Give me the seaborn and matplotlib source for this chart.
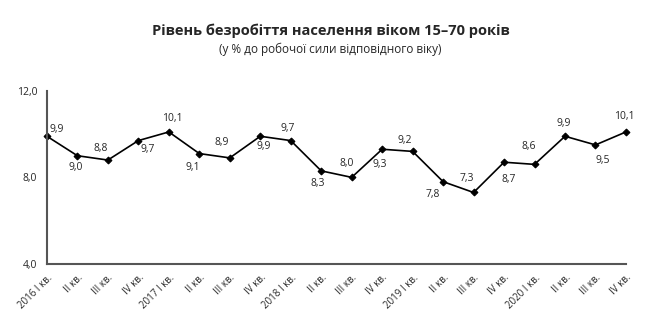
import matplotlib
matplotlib.use("Agg")
import matplotlib.pyplot as plt
import seaborn as sns
import pandas as pd

quarters = ["2016 І кв.", "ІІ кв.", "ІІІ кв.", "ІV кв.",
            "2017 І кв.", "ІІ кв.", "ІІІ кв.", "ІV кв.",
            "2018 І кв.", "ІІ кв.", "ІІІ кв.", "ІV кв.",
            "2019 І кв.", "ІІ кв.", "ІІІ кв.", "ІV кв.",
            "2020 І кв.", "ІІ кв.", "ІІІ кв.", "ІV кв."]
rate = [9.9, 9.0, 8.8, 9.7, 10.1, 9.1, 8.9, 9.9, 9.7, 8.3,
        8.0, 9.3, 9.2, 7.8, 7.3, 8.7, 8.6, 9.9, 9.5, 10.1]
# label offsets in pixels (dx, dy), dy positive = up
label_off = [(10, 7), (-2, -12), (-7, 12), (9, -9), (3, 13), (-7, -14),
             (-8, 15), (3, -10), (-3, 12), (-3, -13), (-5, 14), (-2, -15),
             (-8, 11), (-10, -13), (-7, 14), (5, -17), (-6, 18), (-1, 13),
             (7, -16), (-2, 15)]

sns.set_theme(style="white")
plt.rcParams['font.family'] = ['Open Sans', 'DejaVu Sans']

df = pd.DataFrame({"x": range(len(quarters)), "y": rate})
fig = plt.figure(figsize=(6.61, 3.34), dpi=100)
ax = fig.add_axes([0.071, 0.21, 0.876, 0.518])
sns.lineplot(data=df, x="x", y="y", ax=ax, color="black", linewidth=1.2,
             marker="D", markersize=3.5, markeredgecolor="black")
ax.set_xlim(0, len(quarters) - 1)
ax.set_ylim(4, 12)
ax.set_yticks([4, 8, 12])
ax.set_yticklabels(["4,0", "8,0", "12,0"], fontsize=7.5)
ax.set_xticks(range(len(quarters)))
ax.set_xticklabels(quarters, rotation=45, ha="right", rotation_mode="anchor", fontsize=7)
ax.set_xlabel("")
ax.set_ylabel("")
for s in ["top", "right"]:
    ax.spines[s].set_visible(False)
for s in ["left", "bottom"]:
    ax.spines[s].set_color("#555555")
    ax.spines[s].set_linewidth(1.5)
ax.tick_params(axis="both", length=4, width=1, color="#555555", direction="out", pad=3)
ax.tick_params(axis="x", pad=2)
ax.grid(False)
for line in ax.lines:
    line.set_clip_on(False)

for i, (v, (dx, dy)) in enumerate(zip(rate, label_off)):
    ax.annotate(f"{v:.1f}".replace(".", ","), (i, v), xytext=(dx, dy),
                textcoords="offset pixels", ha="center", va="center", fontsize=7.5)

fig.text(0.5, 0.895, "Рівень безробіття населення віком 15–70 років",
         ha="center", fontsize=10.5, fontweight="bold")
fig.text(0.5, 0.84, "(у % до робочої сили відповідного віку)",
         ha="center", fontsize=8.5)

fig.savefig("out.png", dpi=100)
